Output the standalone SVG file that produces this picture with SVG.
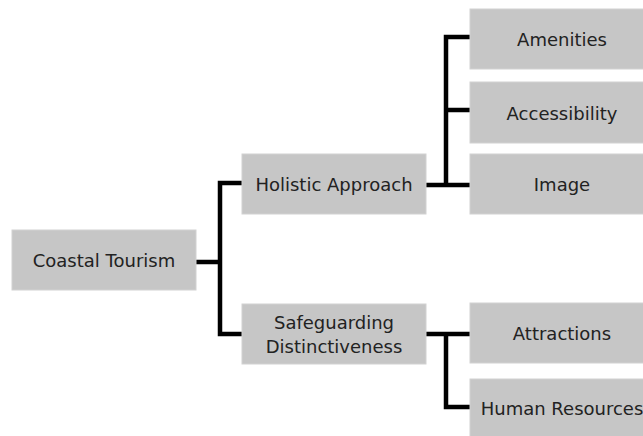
<svg xmlns="http://www.w3.org/2000/svg" width="643" height="436" viewBox="0 0 643 436">
<style>
.box{fill:#c6c6c6;stroke:#d2d2d2;stroke-width:1}
.t{font-family:"DejaVu Sans",sans-serif;font-size:18px;fill:#222;text-anchor:middle}
.c{fill:none;stroke:#000;stroke-width:4.5;stroke-linejoin:miter;stroke-linecap:butt}
</style>
<rect width="643" height="436" fill="#fff"/>
<g id="connectors">
<path class="c" d="M196 262 H220 M242 183 H220 V334 H242"/>
<path class="c" d="M426 185 H470 M470 37 H446 V185 M446 110 H470"/>
<path class="c" d="M426 334 H470 M446 334 V407 H471"/>
</g>
<g id="coastal"><rect class="box" x="12" y="230" width="184" height="60"/><text class="t" x="104" y="267">Coastal Tourism</text></g>
<g id="holistic"><rect class="box" x="242" y="154" width="184" height="60"/><text class="t" x="334" y="191">Holistic Approach</text></g>
<g id="safeguarding"><rect class="box" x="242" y="304" width="184" height="60"/><text class="t" x="334" y="329">Safeguarding</text><text class="t" x="334" y="353">Distinctiveness</text></g>
<g id="amenities"><rect class="box" x="470" y="9" width="184" height="60"/><text class="t" x="562" y="46">Amenities</text></g>
<g id="accessibility"><rect class="box" x="470" y="82" width="184" height="61"/><text class="t" x="562" y="120">Accessibility</text></g>
<g id="image"><rect class="box" x="470" y="154" width="184" height="60"/><text class="t" x="562" y="191">Image</text></g>
<g id="attractions"><rect class="box" x="470" y="303" width="184" height="60"/><text class="t" x="562" y="340">Attractions</text></g>
<g id="human"><rect class="box" x="470" y="379" width="184" height="60"/><text class="t" x="562" y="415">Human Resources</text></g>
</svg>
